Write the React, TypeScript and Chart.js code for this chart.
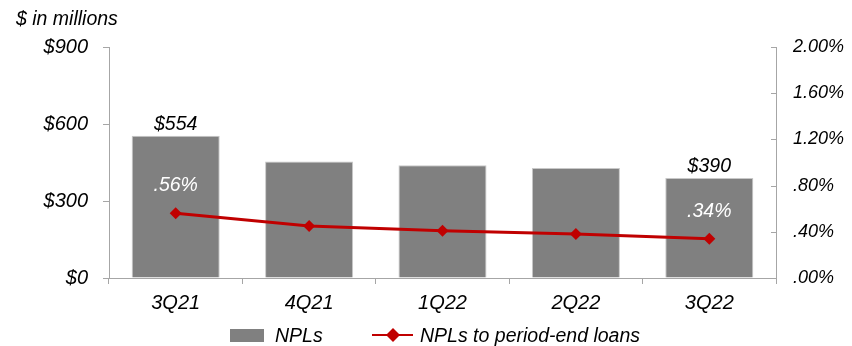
import React, { useEffect, useRef } from "react";
import { Chart, registerables } from "chart.js";

Chart.register(...registerables);

const quarters = ["3Q21", "4Q21", "1Q22", "2Q22", "3Q22"];
const nplValues = [554, 454, 439, 429, 390];
const nplRatio = [0.56, 0.45, 0.41, 0.38, 0.34];
const barLabels = ["$554", "", "", "", "$390"];
const ratioLabels = [".56%", "", "", "", ".34%"];

const FONT = "'Liberation Sans', Arial, sans-serif";
const FS = 19.5;
const BAR_COLOR = "#808080";
const LINE_COLOR = "#C00000";
const AXIS_COLOR = "#A6A6A6";

function fmtPct(v: number) {
  const s = Number(v).toFixed(2);
  return s.startsWith("0") ? s.slice(1) : s;
}

function drawDiamond(ctx: CanvasRenderingContext2D, x: number, y: number, r: number) {
  ctx.beginPath();
  ctx.moveTo(x, y - r);
  ctx.lineTo(x + r, y);
  ctx.lineTo(x, y + r);
  ctx.lineTo(x - r, y);
  ctx.closePath();
  ctx.fill();
}

const annotations = {
  id: "annotations",
  afterDraw(chart: any) {
    const ctx: CanvasRenderingContext2D = chart.ctx;
    ctx.save();

    // inward tick marks on the right-hand axis
    const y1 = chart.scales.y1;
    ctx.strokeStyle = AXIS_COLOR;
    ctx.lineWidth = 1;
    y1.ticks.forEach((t: any) => {
      const py = Math.round(y1.getPixelForValue(t.value)) + 0.5;
      ctx.beginPath();
      ctx.moveTo(y1.left - 5, py);
      ctx.lineTo(y1.left, py);
      ctx.stroke();
    });

    ctx.font = `italic ${FS}px ${FONT}`;
    ctx.textAlign = "center";
    ctx.textBaseline = "alphabetic";

    // value labels above bars
    const barMeta = chart.getDatasetMeta(1);
    barMeta.data.forEach((el: any, i: number) => {
      if (!barLabels[i]) return;
      ctx.fillStyle = "#000000";
      ctx.fillText(barLabels[i], el.x, el.y - 6);
    });

    // ratio labels above line points
    const lineMeta = chart.getDatasetMeta(0);
    lineMeta.data.forEach((el: any, i: number) => {
      if (!ratioLabels[i]) return;
      ctx.fillStyle = "#FFFFFF";
      ctx.fillText(ratioLabels[i], el.x, el.y - 22);
    });

    // units caption
    ctx.textAlign = "left";
    ctx.fillStyle = "#000000";
    ctx.fillText("$ in millions", 16, 25);

    // legend
    const ly = 335;
    ctx.fillStyle = BAR_COLOR;
    ctx.fillRect(230, ly - 6, 34, 13);
    ctx.fillStyle = "#000000";
    ctx.fillText("NPLs", 275, 342);

    ctx.strokeStyle = LINE_COLOR;
    ctx.lineWidth = 2;
    ctx.beginPath();
    ctx.moveTo(372, ly);
    ctx.lineTo(413, ly);
    ctx.stroke();
    ctx.fillStyle = LINE_COLOR;
    drawDiamond(ctx, 393, ly, 7);
    ctx.fillStyle = "#000000";
    ctx.fillText("NPLs to period-end loans", 420, 342);
    ctx.restore();
  },
};

export default function App() {
  const ref = useRef<HTMLCanvasElement>(null);

  useEffect(() => {
    if (!ref.current) return;
    const tickFont = { family: FONT, size: 20, style: "italic" as const };
    const rightFont = { family: FONT, size: 18, style: "italic" as const };
    const chart = new Chart(ref.current, {
      type: "bar",
      data: {
        labels: quarters,
        datasets: [
          {
            type: "line",
            label: "NPLs to period-end loans",
            data: nplRatio,
            yAxisID: "y1",
            borderColor: LINE_COLOR,
            backgroundColor: LINE_COLOR,
            borderWidth: 3,
            pointStyle: "rectRot",
            pointRadius: 6,
            pointBorderWidth: 0,
            pointBackgroundColor: LINE_COLOR,
            tension: 0,
            order: 0,
          },
          {
            type: "bar",
            label: "NPLs",
            data: nplValues,
            yAxisID: "y",
            backgroundColor: BAR_COLOR,
            borderColor: "#C8C8C8",
            borderWidth: 1,
            barPercentage: 0.66,
            categoryPercentage: 1,
            order: 1,
          },
        ],
      },
      options: {
        responsive: false,
        animation: false,
        events: [],
        layout: { padding: { top: 47, left: 0, right: 0, bottom: 0 } },
        plugins: {
          legend: { display: false },
          tooltip: { enabled: false },
          title: { display: false },
        },
        scales: {
          x: {
            grid: {
              drawOnChartArea: false,
              drawTicks: true,
              tickLength: 6,
              tickColor: AXIS_COLOR,
              offset: true,
            },
            border: { color: AXIS_COLOR, width: 1 },
            ticks: { color: "#000000", font: tickFont, padding: 7 },
            afterFit: (s: any) => {
              s.height = 68;
            },
          },
          y: {
            position: "left",
            min: 0,
            max: 900,
            ticks: {
              stepSize: 300,
              color: "#000000",
              font: tickFont,
              padding: 15,
              callback: (v: any) => "$" + v,
            },
            grid: {
              drawOnChartArea: false,
              tickLength: 6,
              tickColor: AXIS_COLOR,
            },
            border: { color: AXIS_COLOR, width: 1 },
            afterFit: (s: any) => {
              s.width = 109;
            },
          },
          y1: {
            position: "right",
            min: 0,
            max: 2,
            ticks: {
              stepSize: 0.4,
              color: "#000000",
              font: rightFont,
              padding: 17,
              callback: (v: any) => fmtPct(v) + "%",
            },
            grid: {
              drawOnChartArea: false,
              drawTicks: false,
            },
            border: { color: AXIS_COLOR, width: 1 },
            afterFit: (s: any) => {
              s.width = 76;
            },
          },
        },
      },
      plugins: [annotations],
    });
    return () => chart.destroy();
  }, []);

  return (
    <div style={{ position: "fixed", left: 0, top: 0, width: 852, height: 346, background: "#fff" }}>
      <canvas ref={ref} width={852} height={346} />
    </div>
  );
}
